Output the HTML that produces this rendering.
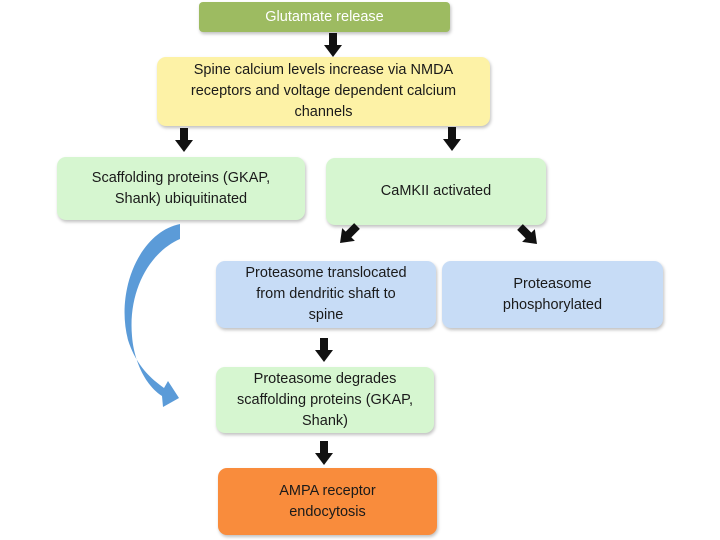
<!DOCTYPE html>
<html><head><style>
body{margin:0;width:720px;height:540px;background:#fff;position:relative;overflow:hidden;font-family:"Liberation Sans",sans-serif;}
.b{position:absolute;border-radius:9px;display:flex;align-items:center;justify-content:center;text-align:center;font-size:14.5px;line-height:21px;color:#1a1a1a;box-shadow:1px 2px 3px rgba(0,0,0,0.25);}
</style></head><body>
<div class="b" style="left:199px;top:2px;width:251px;height:30px;background:#9dbb61;color:#fff;border-radius:4px;">Glutamate release</div>
<div class="b" style="left:157px;top:57px;width:333px;height:69px;background:#fdf2a6;">Spine calcium levels increase via NMDA<br>receptors and voltage dependent calcium<br>channels</div>
<div class="b" style="left:57px;top:157px;width:248px;height:63px;background:#d6f6d0;">Scaffolding proteins (GKAP,<br>Shank) ubiquitinated</div>
<div class="b" style="left:326px;top:158px;width:220px;height:67px;background:#d6f6d0;">CaMKII activated</div>
<div class="b" style="left:216px;top:261px;width:220px;height:67px;background:#c7dcf6;">Proteasome translocated<br>from dendritic shaft to<br>spine</div>
<div class="b" style="left:442px;top:261px;width:221px;height:67px;background:#c7dcf6;">Proteasome<br>phosphorylated</div>
<div class="b" style="left:216px;top:367px;width:218px;height:66px;background:#d6f6d0;">Proteasome degrades<br>scaffolding proteins (GKAP,<br>Shank)</div>
<div class="b" style="left:218px;top:468px;width:219px;height:67px;background:#f98c3c;">AMPA receptor<br>endocytosis</div>
<svg width="720" height="540" style="position:absolute;left:0;top:0">
<defs><path id="a" d="M-4,0 L4,0 L4,12 L9,12 L0,24 L-9,12 L-4,12 Z" fill="#111"/></defs>
<use href="#a" transform="translate(333,33)"/>
<use href="#a" transform="translate(184,128)"/>
<use href="#a" transform="translate(452,127)"/>
<use href="#a" transform="translate(357,226) rotate(45)"/>
<use href="#a" transform="translate(520,227) rotate(-45)"/>
<use href="#a" transform="translate(324,338)"/>
<use href="#a" transform="translate(324,441)"/>
<path d="M180,224 C140,232 115,290 128,340 C136,365 150,378 164,388 L168,381 L179,398 L163,407 L162,396 C146,386 134,362 132,336 C128,290 150,252 180,239 Z" fill="#5b9bd8"/>
</svg>
</body></html>
